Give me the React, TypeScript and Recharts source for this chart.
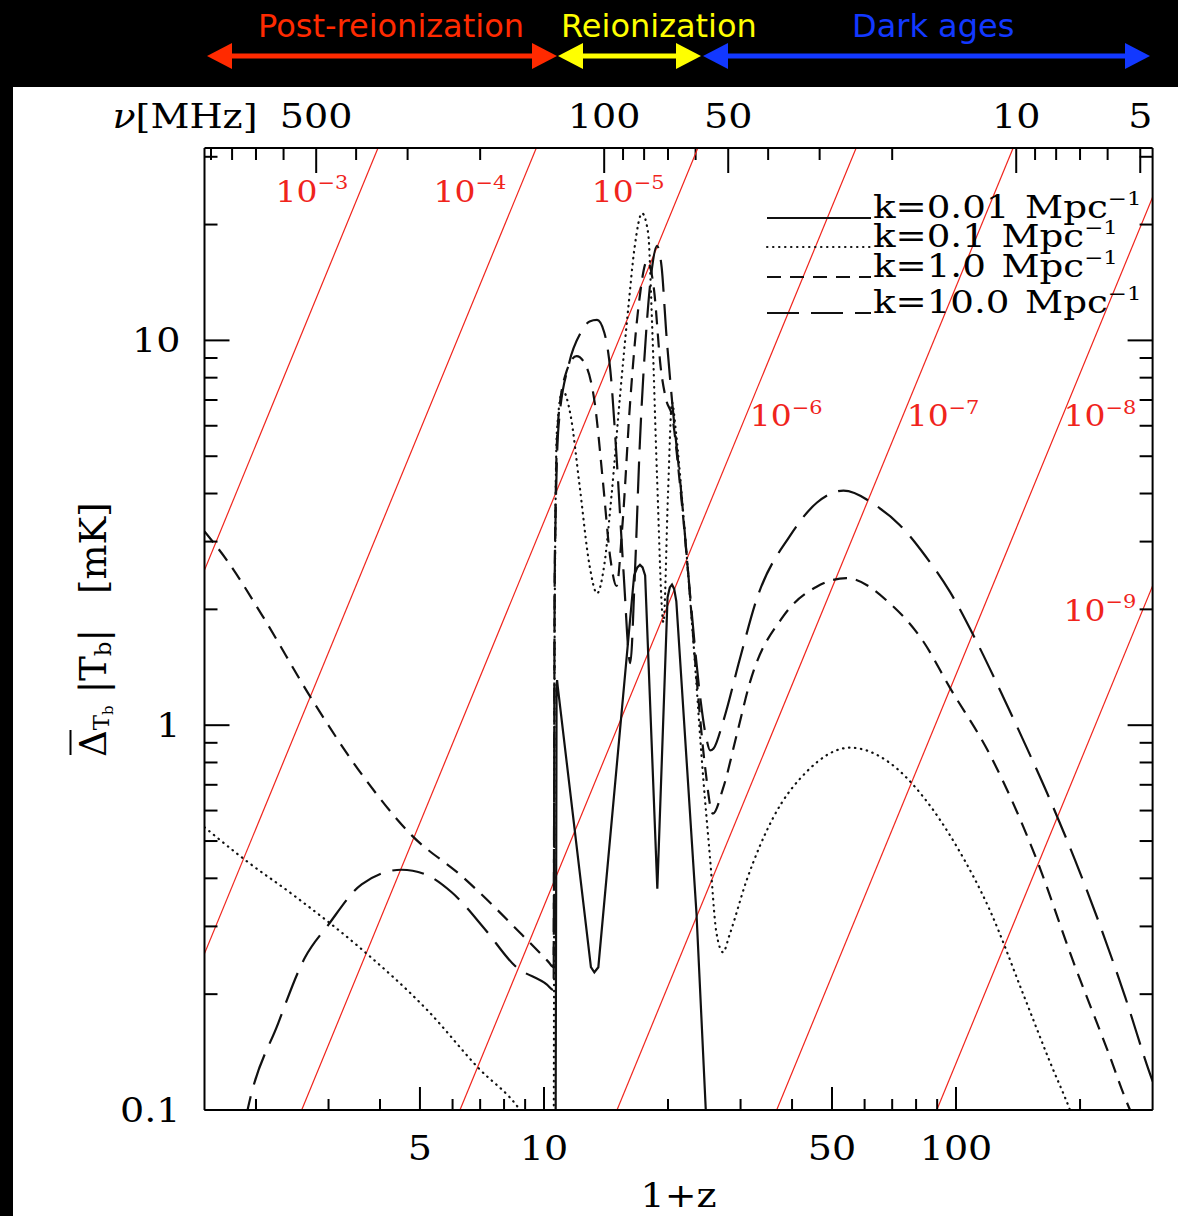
import React from 'react';
import {
  ComposedChart,
  Line,
  Scatter,
  XAxis,
  YAxis,
  ReferenceLine,
  Legend,
} from 'recharts';

// Upper axis: observed 21cm frequency, nu [MHz] ~ 1400 / (1+z)
const NU_SCALE = 1400;

const Z_DOMAIN: [number, number] = [1.5, 300];
const DELTA_DOMAIN: [number, number] = [0.1, 31.62];

const zTicks = [2, 3, 4, 5, 6, 7, 8, 9, 10, 20, 30, 40, 50, 60, 70, 80, 90, 100, 200];
const zTickLabels = [5, 10, 50, 100];
const nuTicks = [900, 800, 700, 600, 500, 400, 300, 200, 100, 90, 80, 70, 60, 50, 40, 30, 20, 10, 9, 8, 7, 6, 5];
const nuTickLabels = [500, 100, 50, 10, 5];
const deltaTicks = [0.1, 0.2, 0.3, 0.4, 0.5, 0.6, 0.7, 0.8, 0.9, 1, 2, 3, 4, 5, 6, 7, 8, 9, 10, 20, 30];
const deltaTickLabels = [0.1, 1, 10];

const k001 = [
  { z: 10.66, v: 0.05 }, { z: 10.73, v: 1.25 }, { z: 10.76, v: 1.31 }, { z: 10.8, v: 1.26 },
  { z: 13.0, v: 0.235 }, { z: 13.25, v: 0.228 }, { z: 13.55, v: 0.235 },
  { z: 16.55, v: 2.45 }, { z: 16.85, v: 2.57 }, { z: 17.1, v: 2.61 }, { z: 17.35, v: 2.57 }, { z: 17.6, v: 2.45 },
  { z: 18.84, v: 0.376 },
  { z: 19.95, v: 2.15 }, { z: 20.2, v: 2.28 }, { z: 20.45, v: 2.32 }, { z: 20.7, v: 2.26 }, { z: 20.95, v: 2.1 },
  { z: 23.45, v: 0.324 }, { z: 24.7, v: 0.1 }, { z: 25.0, v: 0.08 },
];

const k01 = [
  { z: 1.5, v: 0.543 }, { z: 1.88, v: 0.447 }, { z: 2.49, v: 0.359 }, { z: 3.62, v: 0.261 },
  { z: 5.23, v: 0.181 }, { z: 6.91, v: 0.129 }, { z: 8.74, v: 0.1 }, { z: 10.2, v: 0.075 }, { z: 10.55, v: 0.07 },
  { z: 10.62, v: 2.0 }, { z: 10.75, v: 5.8 }, { z: 11.1, v: 7.4 }, { z: 11.6, v: 6.4 }, { z: 12.2, v: 4.2 },
  { z: 12.9, v: 2.6 }, { z: 13.45, v: 2.2 }, { z: 14.0, v: 2.6 }, { z: 14.6, v: 4.0 }, { z: 15.3, v: 7.2 },
  { z: 16.0, v: 12.0 }, { z: 16.6, v: 17.5 }, { z: 17.3, v: 21.4 }, { z: 17.9, v: 19.0 }, { z: 18.3, v: 11.0 },
  { z: 18.8, v: 4.5 }, { z: 19.5, v: 1.85 }, { z: 20.0, v: 4.0 }, { z: 20.45, v: 6.9 }, { z: 20.9, v: 5.8 },
  { z: 21.8, v: 3.5 }, { z: 23.0, v: 1.7 }, { z: 24.3, v: 0.75 }, { z: 25.3, v: 0.45 }, { z: 26.2, v: 0.29 },
  { z: 27.2, v: 0.257 }, { z: 28.2, v: 0.285 }, { z: 31.0, v: 0.394 }, { z: 36.0, v: 0.575 }, { z: 43.4, v: 0.757 },
  { z: 55.3, v: 0.874 }, { z: 69.2, v: 0.797 }, { z: 83.3, v: 0.651 }, { z: 100.6, v: 0.482 }, { z: 120.9, v: 0.33 },
  { z: 145.6, v: 0.2 }, { z: 169.2, v: 0.133 }, { z: 189.1, v: 0.1 }, { z: 200, v: 0.085 },
];

const k1 = [
  { z: 1.5, v: 3.19 }, { z: 1.71, v: 2.66 }, { z: 2.07, v: 1.93 }, { z: 2.73, v: 1.17 }, { z: 3.61, v: 0.746 },
  { z: 4.77, v: 0.518 }, { z: 6.32, v: 0.405 }, { z: 9.15, v: 0.275 }, { z: 10.24, v: 0.243 }, { z: 10.55, v: 0.235 },
  { z: 10.62, v: 2.5 }, { z: 10.8, v: 6.0 }, { z: 11.3, v: 8.2 }, { z: 12.0, v: 9.1 }, { z: 12.7, v: 8.5 },
  { z: 13.3, v: 6.8 }, { z: 13.9, v: 4.3 }, { z: 14.5, v: 2.7 }, { z: 15.0, v: 2.3 }, { z: 15.5, v: 3.3 },
  { z: 16.2, v: 7.0 }, { z: 17.0, v: 12.5 }, { z: 17.8, v: 16.1 }, { z: 18.5, v: 13.5 }, { z: 19.2, v: 8.5 },
  { z: 19.8, v: 7.0 }, { z: 20.5, v: 6.3 }, { z: 21.3, v: 4.4 }, { z: 22.3, v: 2.6 }, { z: 23.5, v: 1.3 },
  { z: 24.6, v: 0.78 }, { z: 25.7, v: 0.589 }, { z: 27.2, v: 0.685 }, { z: 29.4, v: 0.95 }, { z: 31.6, v: 1.29 },
  { z: 38.1, v: 1.92 }, { z: 45.9, v: 2.29 }, { z: 54.2, v: 2.41 }, { z: 69.2, v: 2.07 }, { z: 83.3, v: 1.65 },
  { z: 96.7, v: 1.25 }, { z: 120.9, v: 0.838 }, { z: 157.0, v: 0.447 }, { z: 192.3, v: 0.244 }, { z: 232.6, v: 0.144 },
  { z: 264.5, v: 0.1 }, { z: 280, v: 0.088 },
];

const k10 = [
  { z: 1.87, v: 0.09 }, { z: 1.912, v: 0.101 }, { z: 2.264, v: 0.168 }, { z: 2.63, v: 0.249 }, { z: 2.99, v: 0.302 },
  { z: 3.61, v: 0.386 }, { z: 4.51, v: 0.421 }, { z: 5.14, v: 0.41 }, { z: 5.97, v: 0.368 }, { z: 7.19, v: 0.295 },
  { z: 8.5, v: 0.237 }, { z: 10.15, v: 0.212 }, { z: 10.55, v: 0.205 },
  { z: 10.62, v: 2.5 }, { z: 10.85, v: 6.0 }, { z: 11.5, v: 8.7 }, { z: 12.3, v: 10.5 }, { z: 12.9, v: 11.2 },
  { z: 13.45, v: 11.3 }, { z: 14.0, v: 10.5 }, { z: 14.5, v: 8.3 }, { z: 15.0, v: 5.0 }, { z: 15.6, v: 2.5 },
  { z: 16.2, v: 1.45 }, { z: 16.6, v: 2.4 }, { z: 17.1, v: 5.5 }, { z: 17.7, v: 10.5 }, { z: 18.3, v: 15.5 },
  { z: 18.8, v: 17.6 }, { z: 19.3, v: 15.5 }, { z: 19.8, v: 10.5 }, { z: 20.5, v: 6.8 }, { z: 21.5, v: 4.1 },
  { z: 22.7, v: 2.1 }, { z: 23.9, v: 1.2 }, { z: 24.8, v: 0.92 }, { z: 25.3, v: 0.86 }, { z: 25.8, v: 0.87 },
  { z: 27.2, v: 1.02 }, { z: 29.9, v: 1.49 }, { z: 32.8, v: 2.12 }, { z: 39.5, v: 3.1 }, { z: 46.0, v: 3.79 },
  { z: 53.3, v: 4.07 }, { z: 64.4, v: 3.7 }, { z: 73.1, v: 3.31 }, { z: 84.1, v: 2.76 }, { z: 96.7, v: 2.22 },
  { z: 111.2, v: 1.68 }, { z: 127.9, v: 1.233 }, { z: 147.1, v: 0.893 }, { z: 169.2, v: 0.639 }, { z: 194.5, v: 0.446 },
  { z: 223.6, v: 0.302 }, { z: 257.2, v: 0.197 }, { z: 299.1, v: 0.12 }, { z: 320, v: 0.1 },
];

const guideLines = [
  { exp: 3, z1: 1.5, v1: 2.53, z2: 3.955, v2: 31.62 },
  { exp: 4, z1: 1.5, v1: 0.255, z2: 9.58, v2: 31.62 },
  { exp: 5, z1: 2.582, v1: 0.1, z2: 23.63, v2: 31.62 },
  { exp: 6, z1: 6.253, v1: 0.1, z2: 57.23, v2: 31.62 },
  { exp: 7, z1: 15.04, v1: 0.1, z2: 137.6, v2: 31.62 },
  { exp: 8, z1: 36.71, v1: 0.1, z2: 300, v2: 23.55 },
  { exp: 9, z1: 89.81, v1: 0.1, z2: 300, v2: 2.3 },
];

const guideLabels = [
  { exp: 3, z: 2.735, v: 24.5 },
  { exp: 4, z: 6.61, v: 24.5 },
  { exp: 5, z: 16.0, v: 24.5 },
  { exp: 6, z: 38.7, v: 6.38 },
  { exp: 7, z: 93.0, v: 6.38 },
  { exp: 8, z: 223.6, v: 6.38 },
  { exp: 9, z: 223.6, v: 1.99 },
];

const curveNames = ['k=0.01', 'k=0.1', 'k=1.0', 'k=10.0'];

const SERIF = '"DejaVu Serif", "Liberation Serif", serif';
const SANS = '"DejaVu Sans", "Liberation Sans", sans-serif';
const RED = '#f0241c';
const INK = '#111';

const curveStyle = [
  { dash: undefined, cap: 'butt' as const, type: 'linear' as const },
  { dash: '0.5 5.5', cap: 'round' as const, type: 'monotone' as const },
  { dash: '14 9', cap: 'butt' as const, type: 'monotone' as const },
  { dash: '32 12', cap: 'butt' as const, type: 'monotone' as const },
];
const curveData = [k001, k01, k1, k10];

const BottomTick = (props: any) => {
  const { x, y, payload } = props;
  const major = zTickLabels.includes(payload.value);
  return (
    <g>
      <line x1={x} y1={y} x2={x} y2={y - (major ? 23 : 11)} stroke="#000" strokeWidth={2} />
      {major && (
        <text transform={`translate(${x},${y + 50}) scale(1.12,1)`} textAnchor="middle" fontFamily={SERIF} fontSize={34} fill="#000">
          {payload.value}
        </text>
      )}
    </g>
  );
};

const LeftTick = (props: any) => {
  const { x, y, payload } = props;
  const major = deltaTickLabels.includes(payload.value);
  return (
    <g>
      <line x1={x} y1={y} x2={x + (major ? 25 : 13)} y2={y} stroke="#000" strokeWidth={2} />
      {major && (
        <text transform={`translate(${x - 24},${y + 12}) scale(1.12,1)`} textAnchor="end" fontFamily={SERIF} fontSize={34} fill="#000">
          {payload.value}
        </text>
      )}
    </g>
  );
};

const RightTick = (props: any) => {
  const { x, y, payload } = props;
  const major = deltaTickLabels.includes(payload.value);
  return <line x1={x} y1={y} x2={x - (major ? 25 : 13)} y2={y} stroke="#000" strokeWidth={2} />;
};

// Frequency tick: drawn from the top end of a vertical reference line at 1+z = NU_SCALE/nu
const renderNuTick = (p: any, nu: number) => {
  const x = p.x1;
  const top = Math.min(p.y1, p.y2);
  const major = nuTickLabels.includes(nu);
  return (
    <g>
      <line x1={x} y1={top} x2={x} y2={top + (major ? 25 : 12)} stroke="#000" strokeWidth={2} />
      {major && (
        <text transform={`translate(${x},${top - 20}) scale(1.12,1)`} textAnchor="middle" fontFamily={SERIF} fontSize={34} fill="#000">
          {nu}
        </text>
      )}
    </g>
  );
};

const GuideLabel = (props: any) => {
  const { cx, cy, payload } = props;
  return (
    <text transform={`translate(${cx},${cy + 11}) scale(1.1,1)`} textAnchor="middle" fontFamily={SERIF} fontSize={30} fill={RED}>
      10<tspan fontSize={19} dy={-13}>{`\u2212${payload.exp}`}</tspan>
    </text>
  );
};

const YTitle = (props: any) => {
  const vb = props.viewBox;
  const bx = vb.x - 39;
  const start = vb.y + vb.height / 2 + 128;
  return (
    <g transform={`translate(${bx},${start}) rotate(-90)`}>
      <line x1={2} x2={27} y1={-35} y2={-35} stroke="#000" strokeWidth={2} />
      <text x={0} y={0} fontFamily={SERIF} fontSize={37} fill="#000">
        <tspan>Δ</tspan>
        <tspan fontSize={23} dy={3}>T</tspan>
        <tspan fontSize={15} dy={4}>b</tspan>
        <tspan fontSize={37} dy={-7} dx={12}>|T</tspan>
        <tspan fontSize={23} dy={5}>b</tspan>
        <tspan fontSize={37} dy={-5}>|</tspan>
        <tspan dx={35}>[mK]</tspan>
      </text>
    </g>
  );
};

const XTitle = (props: any) => {
  const vb = props.viewBox;
  return (
    <text transform={`translate(${vb.x + vb.width / 2},${vb.y + 97}) scale(1.12,1)`} textAnchor="middle" fontFamily={SERIF} fontSize={34} fill="#000">
      1+z
    </text>
  );
};

const NuTitle = (props: any) => {
  const vb = props.viewBox;
  return (
    <text transform={`translate(${vb.x + 53},${vb.y + vb.height - 20}) scale(1.12,1)`} textAnchor="end" fontFamily={SERIF} fontSize={34} fill="#000">
      <tspan fontStyle="italic">ν</tspan>[MHz]
    </text>
  );
};

const legendRowY = [38, 67, 97, 133];

const LegendBox = () => (
  <svg width={420} height={150} style={{ overflow: 'visible', display: 'block' }}>
    {curveNames.map((name, i) => {
      const y = legendRowY[i];
      const st = curveStyle[i];
      return (
        <g key={name}>
          <line x1={7} x2={111} y1={y} y2={y} stroke={INK} strokeWidth={2} strokeDasharray={st.dash} strokeLinecap={st.cap} />
          <g transform={`translate(113,${y}) scale(1.2,1)`}>
            <text x={0} y={0} fontFamily={SERIF} fontSize={31} fill="#000">
              {name}
              <tspan dx={13}>Mpc</tspan>
              <tspan fontSize={19} dy={-13}>{'\u22121'}</tspan>
            </text>
          </g>
        </g>
      );
    })}
  </svg>
);

const eras = [
  { name: 'Post-reionization', color: '#ff2a00' },
  { name: 'Reionization', color: '#ffff00' },
  { name: 'Dark ages', color: '#1238ff' },
];

const Arrow = ({ x1, x2, color }: { x1: number; x2: number; color: string }) => (
  <g>
    <line x1={x1 + 20} x2={x2 - 20} y1={56} y2={56} stroke={color} strokeWidth={5} />
    <polygon points={`${x1},56 ${x1 + 25},43 ${x1 + 25},69`} fill={color} />
    <polygon points={`${x2},56 ${x2 - 25},43 ${x2 - 25},69`} fill={color} />
  </g>
);

const Header = () => (
  <svg width={1178} height={87} style={{ position: 'absolute', left: 0, top: 0 }}>
    <rect x={0} y={0} width={1178} height={87} fill="#000" />
    <text x={258} y={37} fill={eras[0].color} fontFamily={SANS} fontSize={32}>{eras[0].name}</text>
    <text x={561} y={37} fill={eras[1].color} fontFamily={SANS} fontSize={32}>{eras[1].name}</text>
    <text x={852} y={37} fill={eras[2].color} fontFamily={SANS} fontSize={32}>{eras[2].name}</text>
    <Arrow x1={207} x2={557} color={eras[0].color} />
    <Arrow x1={558} x2={701} color={eras[1].color} />
    <Arrow x1={703} x2={1150} color={eras[2].color} />
  </svg>
);

export default function App() {
  return (
    <div style={{ position: 'absolute', left: 0, top: 0, width: 1178, height: 1216, background: '#000', overflow: 'hidden' }}>
      <Header />
      <div style={{ position: 'absolute', left: 13, top: 87, width: 1165, height: 1129, background: '#fff' }} />
      <div style={{ position: 'absolute', left: 0, top: 0 }}>
        <ComposedChart width={1178} height={1216} margin={{ top: 108, right: 24.4, bottom: 46, left: 144.5 }}>
          <XAxis
            xAxisId="z"
            dataKey="z"
            type="number"
            scale="log"
            domain={Z_DOMAIN}
            allowDataOverflow
            ticks={zTicks}
            interval={0}
            height={60}
            tickSize={0}
            tickMargin={0}
            tickLine={false}
            tick={BottomTick}
            axisLine={{ stroke: '#000', strokeWidth: 2 }}
            label={{ content: XTitle }}
          />
          <XAxis
            xAxisId="nu"
            orientation="top"
            type="number"
            scale="log"
            domain={Z_DOMAIN}
            allowDataOverflow
            height={40}
            tick={false}
            tickLine={false}
            axisLine={{ stroke: '#000', strokeWidth: 2 }}
            label={{ content: NuTitle }}
          />
          <YAxis
            yAxisId="left"
            dataKey="v"
            type="number"
            scale="log"
            domain={DELTA_DOMAIN}
            allowDataOverflow
            ticks={deltaTicks}
            interval={0}
            width={60}
            tickSize={0}
            tickMargin={0}
            tickLine={false}
            tick={LeftTick}
            axisLine={{ stroke: '#000', strokeWidth: 2 }}
            label={{ content: YTitle }}
          />
          <YAxis
            yAxisId="right"
            orientation="right"
            type="number"
            scale="log"
            domain={DELTA_DOMAIN}
            allowDataOverflow
            ticks={deltaTicks}
            interval={0}
            width={1}
            tickSize={0}
            tickMargin={0}
            tickLine={false}
            tick={RightTick}
            axisLine={{ stroke: '#000', strokeWidth: 2 }}
          />
          {nuTicks.map((nu) => (
            <ReferenceLine
              key={`nu-${nu}`}
              xAxisId="z"
              yAxisId="left"
              x={NU_SCALE / nu}
              shape={(p: any) => renderNuTick(p, nu)}
            />
          ))}
          {guideLines.map((g) => (
            <ReferenceLine
              key={`guide-${g.exp}`}
              xAxisId="z"
              yAxisId="left"
              segment={[{ x: g.z1, y: g.v1 }, { x: g.z2, y: g.v2 }]}
              stroke={RED}
              strokeWidth={1.2}
              ifOverflow="hidden"
            />
          ))}
          {curveData.map((d, i) => (
            <Line
              key={curveNames[i]}
              name={curveNames[i]}
              data={d}
              xAxisId="z"
              yAxisId="left"
              dataKey="v"
              type={curveStyle[i].type}
              stroke={INK}
              strokeWidth={2.2}
              strokeDasharray={curveStyle[i].dash}
              strokeLinecap={curveStyle[i].cap}
              dot={false}
              activeDot={false}
              isAnimationActive={false}
            />
          ))}
          <Scatter
            data={guideLabels}
            xAxisId="z"
            yAxisId="left"
            dataKey="v"
            shape={GuideLabel}
            isAnimationActive={false}
          />
          <Legend
            layout="horizontal"
            verticalAlign="middle"
            align="center"
            content={LegendBox}
            wrapperStyle={{ position: 'absolute', left: 760, top: 180, width: 420, height: 150 }}
          />
        </ComposedChart>
      </div>
    </div>
  );
}
